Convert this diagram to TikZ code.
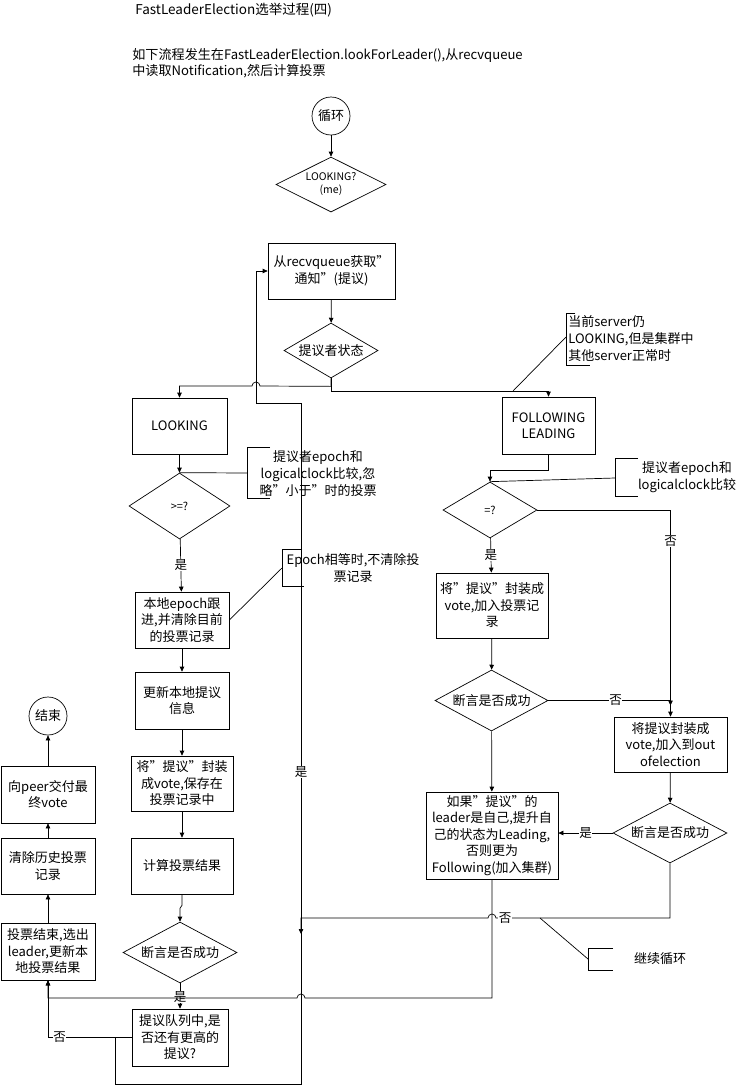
\documentclass[tikz,border=0pt]{standalone}
\usepackage{fontspec}
\setmainfont{Noto Sans CJK SC}
\usetikzlibrary{shapes.geometric,arrows.meta}

\begin{document}
\begin{tikzpicture}[x=1pt, y=-1pt, line width=0.7pt, >={Triangle[length=5pt,width=4.5pt]}]
  \tikzstyle{pnode} = [draw, rectangle, inner sep=1pt, align=center, font=\fontsize{13}{16.5}\selectfont]
  \tikzstyle{dnode} = [draw, diamond, aspect=2, inner sep=0pt, align=center, font=\fontsize{13}{16.5}\selectfont]
  \tikzstyle{cnode} = [draw, circle, inner sep=0pt, minimum size=38pt, font=\fontsize{13}{16.5}\selectfont]
  \tikzstyle{lbl} = [fill=white, inner sep=0.5pt, font=\fontsize{12.5}{14}\selectfont]
  \tikzstyle{note} = [inner sep=0pt, align=center, font=\fontsize{13}{17}\selectfont]

  \useasboundingbox (0,0) rectangle (738,1085);

  %%%%%%%%%%%%%%%%%%%%%%%%%%%%%%
  %% Title and description
  %%%%%%%%%%%%%%%%%%%%%%%%%%%%%%
  \node[anchor=west, inner sep=0pt, font=\fontsize{13.5}{16}\selectfont] (title) at (135,10) {FastLeaderElection选举过程(四)};
  \node[anchor=north west, inner sep=0pt, align=left, font=\fontsize{13.1}{16.5}\selectfont] (desc) at (132,48)
    {如下流程发生在FastLeaderElection.lookForLeader(),从recvqueue\\中读取Notification,然后计算投票};

  %%%%%%%%%%%%%%%%%%%%%%%%%%%%%%
  %% Top: loop start and proposer state
  %%%%%%%%%%%%%%%%%%%%%%%%%%%%%%
  \node[cnode] (loop) at (331,116) {循环};
  \node[dnode, minimum width=110pt, minimum height=55pt, font=\fontsize{10.5}{13}\selectfont] (me) at (331,184.5) {LOOKING?\\(me)};
  \node[pnode, minimum width=127pt, minimum height=56pt] (recv) at (331.5,271) {从recvqueue获取”\\通知”(提议)};
  \node[dnode, minimum width=94pt, minimum height=55pt] (state) at (331,350.5) {提议者状态};

  \draw[->] (loop) -- (me);
  \draw[->] (recv) -- (state);

  %%%%%%%%%%%%%%%%%%%%%%%%%%%%%%
  %% Left branch: LOOKING
  %%%%%%%%%%%%%%%%%%%%%%%%%%%%%%
  \node[pnode, minimum width=95pt, minimum height=56pt] (looking) at (179.5,426) {LOOKING};
  \node[dnode, minimum width=101pt, minimum height=66pt, font=\fontsize{11}{13}\selectfont] (ge) at (179.5,506) {>=?};
  \node[pnode, minimum width=94pt, minimum height=56pt] (epoch) at (182,620) {本地epoch跟\\进,并清除目前\\的投票记录};
  \node[pnode, minimum width=94pt, minimum height=57pt] (upd) at (182,700.5) {更新本地提议\\信息};
  \node[pnode, minimum width=102pt, minimum height=55pt] (save) at (182,783.5) {将”提议”封装\\成vote,保存在\\投票记录中};
  \node[pnode, minimum width=102pt, minimum height=56pt] (calc) at (182,866) {计算投票结果};
  \node[dnode, minimum width=114pt, minimum height=61pt] (assert1) at (180,952.5) {断言是否成功};
  \node[pnode, minimum width=96pt, minimum height=57pt] (queue) at (180,1037.5) {提议队列中,是\\否还有更高的\\提议?};

  \draw[->] (state.south) -- ++(0,8) -- (260,386) arc[start angle=0, end angle=-180, radius=4] -- (179.5,386) -- (looking.north);
  \draw[->] (looking) -- (ge);
  \draw[->] (ge) -- node[lbl]{是} (epoch);
  \draw[->] (epoch) -- (upd);
  \draw[->] (upd) -- (save);
  \draw[->] (save) -- (calc);
  \draw[->] (calc.south) -- ++(0,11) -- ++(-2,3) -- (assert1.north);
  \draw[->] (assert1) -- node[lbl, pos=0.55]{是} (queue);

  % notes on the left branch
  \node[note] (n1) at (318,474) {提议者epoch和\\logicalclock比较,忽\\略”小于”时的投票};
  \draw (270,447) -- (247,447) -- (247,498) -- (270,498);
  \draw (247,473) -- (ge.north);
  \node[note] (n2) at (353,568.5) {Epoch相等时,不清除投\\票记录};
  \draw (302,549) -- (282,549) -- (282,586) -- (304,586);
  \draw (epoch.east) -- (282,568);

  %%%%%%%%%%%%%%%%%%%%%%%%%%%%%%
  %% Right branch: FOLLOWING / LEADING
  %%%%%%%%%%%%%%%%%%%%%%%%%%%%%%
  \node[pnode, minimum width=93pt, minimum height=57pt] (follow) at (548.5,425.5) {FOLLOWING\\LEADING};
  \node[dnode, minimum width=94pt, minimum height=56pt, font=\fontsize{11}{13}\selectfont] (eq) at (490,510) {=?};
  \node[pnode, minimum width=112pt, minimum height=65pt] (rvote) at (492,605.5) {将”提议”封装成\\vote,加入投票记\\录};
  \node[dnode, minimum width=113pt, minimum height=61pt] (assert2) at (491.5,700.5) {断言是否成功};
  \node[pnode, minimum width=132pt, minimum height=87pt] (result) at (492,835.5)
    {如果”提议”的\\leader是自己,提升自\\己的状态为Leading,\\否则更为\\Following(加入集群)};
  \node[pnode, minimum width=113pt, minimum height=55pt] (outof) at (670.5,744.5) {将提议封装成\\vote,加入到out\\ofelection};
  \node[dnode, minimum width=114pt, minimum height=60pt] (assert3) at (670,833) {断言是否成功};

  \draw[->] (state.south) -- ++(0,13) -| (follow.north);
  \draw[->] (follow.south) -- ++(0,16) -| (eq.north);
  \draw[->] (eq) -- node[lbl]{是} (rvote);
  \draw[->] (eq.east) -| node[lbl, pos=0.575]{否} (outof.north);
  \draw[->] (rvote) -- (assert2);
  \draw[->] (assert2.east) -- node[lbl, pos=0.55]{否} (assert2.east -| outof.north) -- ++(0,5);
  \draw[->] (assert2) -- (result);
  \draw[->] (outof) -- (assert3);
  \draw[->] (assert3.west) -- node[lbl]{是} (assert3.west -| result.east);

  % notes on the right branch
  \node[note, anchor=west, align=left] (n3) at (568,339) {当前server仍\\LOOKING,但是集群中\\其他server正常时};
  \draw (575,313) -- (566,313) -- (566,365) -- (590,365);
  \draw (566,337) -- (513,391);
  \node[note] (n4) at (687,477) {提议者epoch和\\logicalclock比较};
  \draw (638,458) -- (615,458) -- (615,496) -- (638,496);
  \draw (615,478) -- (eq.north);

  %%%%%%%%%%%%%%%%%%%%%%%%%%%%%%
  %% End of the election
  %%%%%%%%%%%%%%%%%%%%%%%%%%%%%%
  \node[cnode] (done) at (48,716) {结束};
  \node[pnode, minimum width=94pt, minimum height=57pt] (deliver) at (48,794.5) {向peer交付最\\终vote};
  \node[pnode, minimum width=94pt, minimum height=56pt] (clear) at (48,866) {清除历史投票\\记录};
  \node[pnode, minimum width=94pt, minimum height=57pt] (finish) at (48,951.5) {投票结束,选出\\leader,更新本\\地投票结果};

  \draw[->] (finish) -- (clear);
  \draw[->] (clear) -- (deliver);
  \draw[->] (deliver) -- (done);

  % loops back
  \draw[->] (queue.west) -- (115,1037.5) -- (115,1084) -- (301,1084) -- node[lbl, pos=0.458]{是} (301,403)
    -- (256,403) -- (256,271) -- (recv.west);
  \draw[->] (queue.west) -- node[lbl, pos=0.86]{否} (48,1037.5) -- (finish.south);
  \draw[->] (result.south) -- (492,998) -- (305,998) arc[start angle=0, end angle=-180, radius=4] -- (48,998) -- (finish.south);
  \draw[->] (assert3.south) -- (670,918) -- (496,918) arc[start angle=0, end angle=-180, radius=4] -- (301,918) -- (301,934);
  \node[lbl] (no3) at (505,918) {否};

  \node[note] (n5) at (660,959) {继续循环};
  \draw (613,948) -- (588,948) -- (588,970) -- (613,970);
  \draw (540,918) -- (588,959);
\end{tikzpicture}
\end{document}
